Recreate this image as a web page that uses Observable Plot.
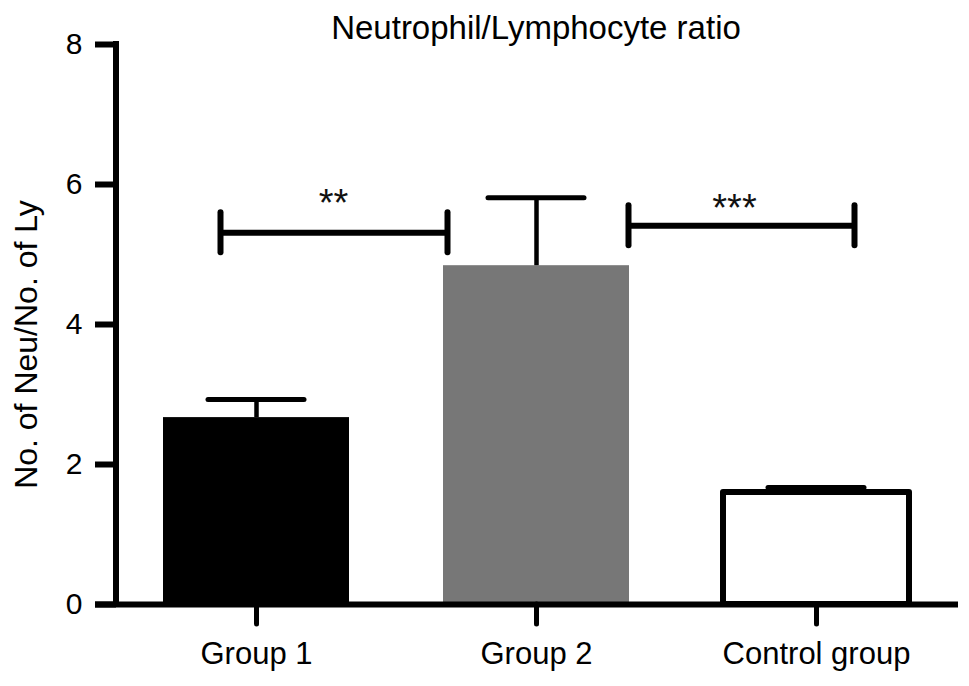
<!DOCTYPE html>
<html>
<head>
<meta charset="utf-8">
<script src="https://cdn.jsdelivr.net/npm/d3@7"></script>
<script src="https://cdn.jsdelivr.net/npm/@observablehq/plot@0.6"></script>
<style>
  html, body { margin: 0; padding: 0; background: #fff; }
  #chart svg { display: block; }
</style>
</head>
<body>
<div id="chart"></div>
<script>
// ---- data ----
const title = "Neutrophil/Lymphocyte ratio";
const yLabel = "No. of Neu/No. of Ly";
const categories = ["Group 1", "Group 2", "Control group"];
const means = [2.67, 4.84, 1.60];
const errors = [0.26, 0.97, 0.07];
const yTicks = [0, 2, 4, 6, 8];
const comparisonFrom = ["Group 1", "Group 2"];
const comparisonTo = ["Group 2", "Control group"];
const comparisonLevels = [5.31, 5.41];
const comparisonLabels = ["**", "***"];

// ---- tables built from the arrays ----
const bars = categories.map((c, i) => ({category: c, mean: means[i], top: means[i] + errors[i]}));
const brackets = comparisonFrom.map((f, i) => ({from: f, to: comparisonTo[i], level: comparisonLevels[i], label: comparisonLabels[i]}));

const font = "'Liberation Sans', Arial, Helvetica, sans-serif";

const yAxisLine = (index, scales, values, dims) => {
  const y = scales.y;
  const line = document.createElementNS("http://www.w3.org/2000/svg", "line");
  line.setAttribute("x1", dims.marginLeft);
  line.setAttribute("x2", dims.marginLeft);
  line.setAttribute("y1", y(yTicks[yTicks.length - 1]) - 3);
  line.setAttribute("y2", y(0) + 3);
  line.setAttribute("stroke", "black");
  line.setAttribute("stroke-width", 6);
  return line;
};

const bracketMarks = (b, o) => [
  Plot.ruleY([b], {x1: "from", x2: "to", y: "level", insetLeft: o.il, insetRight: o.ir, stroke: "black", strokeWidth: 6}),
  Plot.ruleX([b], {x: "from", y1: "level", y2: "level", insetTop: -20, insetBottom: -20, dx: o.dl, stroke: "black", strokeWidth: 6, strokeLinecap: "round"}),
  Plot.ruleX([b], {x: "to", y1: "level", y2: "level", insetTop: -20, insetBottom: -20, dx: o.dr, stroke: "black", strokeWidth: 6, strokeLinecap: "round"}),
  Plot.text([b], {x: o.tx, y: "level", text: "label", dx: o.tdx, dy: o.tdy, lineAnchor: "bottom", fontSize: 38, fill: "#111"})
];

const chart = Plot.plot({
  width: 969,
  height: 686,
  marginLeft: 116,
  marginRight: 14,
  marginTop: 44,
  marginBottom: 82,
  style: {fontFamily: font, fontSize: "30px", color: "black", background: "white", overflow: "visible"},
  x: {domain: categories, paddingInner: 0.336, paddingOuter: 0.164},
  y: {domain: [0, 8]},
  color: {domain: categories, range: ["#000000", "#777777", "#ffffff"]},
  marks: [
    Plot.barY(bars, {x: "category", y: "mean", fill: "category"}),
    Plot.barY(bars, {filter: d => d.category === "Control group", x: "category", y: "mean", fill: "none", stroke: "black", strokeWidth: 6, strokeLinejoin: "round"}),
    Plot.ruleX(bars, {x: "category", y1: "mean", y2: "top", stroke: "black", strokeWidth: 4.5}),
    Plot.tickY(bars, {x: "category", y: "top", insetLeft: 45, insetRight: 45, stroke: "black", strokeWidth: 5, strokeLinecap: "round"}),
    ...bracketMarks(brackets[0], {il: 57, ir: 182, dl: -36, dr: -89, tx: "from", tdx: 77, tdy: -17}),
    ...bracketMarks(brackets[1], {il: 185, ir: 55, dl: 92, dr: 38, tx: "to", tdx: -82, tdy: -5}),
    Plot.ruleY([0], {stroke: "black", strokeWidth: 6, insetLeft: -21, insetRight: -3}),
    yAxisLine,
    Plot.axisY({ticks: yTicks, tickFormat: d => String(d), tickSize: 21, tickPadding: 13, strokeWidth: 6, fontSize: 30, label: null}),
    Plot.axisX({tickSize: 20, tickPadding: 17, strokeWidth: 5, strokeLinecap: "round", fontSize: 31, label: null}),
    Plot.text([yLabel], {text: d => d, frameAnchor: "left", textAnchor: "middle", rotate: -90, dx: -90, dy: 20, fontSize: 32, fill: "black"}),
    Plot.text([title], {text: d => d, frameAnchor: "top", dy: -6, lineAnchor: "bottom", fontSize: 33, fill: "black"})
  ]
});
document.getElementById("chart").appendChild(chart);
</script>
</body>
</html>
